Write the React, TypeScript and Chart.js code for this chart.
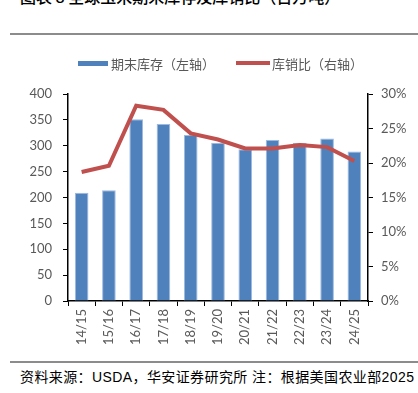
import React, { useEffect, useRef } from "react";
import { Chart, registerables } from "chart.js";

Chart.register(...registerables);

const categories = ["14/15", "15/16", "16/17", "17/18", "18/19", "19/20", "20/21", "21/22", "22/23", "23/24", "24/25"];
const endingStocks = [209, 214, 351, 342, 321, 306, 293, 311, 306, 314, 289];
const stockToUseRatio = [18.7, 19.6, 28.3, 27.7, 24.3, 23.4, 22.1, 22.1, 22.6, 22.3, 20.3];
const leftTicks = [0, 50, 100, 150, 200, 250, 300, 350, 400];
const rightTicks = [0, 5, 10, 15, 20, 25, 30];

const title = "图表 8 全球玉米期末库存及库销比（百万吨）";
const legendBar = "期末库存（左轴）";
const legendLine = "库销比（右轴）";
const footer = "资料来源：USDA，华安证券研究所 注：根据美国农业部2025";

const BLUE = "#4F81BD";
const RED = "#C0504D";
const GRAY = "#595959";
const TICK_FONT = { family: "Lato, 'Noto Sans', sans-serif", size: 13 };
const CJK = "'Noto Sans CJK SC', sans-serif";

export default function App() {
  const ref = useRef<HTMLCanvasElement | null>(null);

  useEffect(() => {
    if (!ref.current) return;
    const chart = new Chart(ref.current, {
      type: "bar",
      data: {
        labels: categories,
        datasets: [
          {
            type: "line",
            label: legendLine,
            data: stockToUseRatio,
            yAxisID: "y1",
            borderColor: RED,
            backgroundColor: RED,
            borderWidth: 4,
            pointRadius: 0,
            tension: 0,
            order: 0,
          } as any,
          {
            type: "bar",
            label: legendBar,
            data: endingStocks,
            yAxisID: "y",
            backgroundColor: BLUE,
            borderColor: "#9DB9DE",
            borderWidth: { top: 1, left: 1, right: 1, bottom: 0 },
            barPercentage: 0.5,
            categoryPercentage: 1,
            order: 1,
          } as any,
        ],
      },
      options: {
        animation: false,
        responsive: false,
        maintainAspectRatio: false,
        layout: { padding: { top: 54, left: 0, right: 0, bottom: 0 } },
        plugins: { legend: { display: false }, tooltip: { enabled: false } },
        scales: {
          x: {
            offset: true,
            grid: {
              offset: true,
              drawOnChartArea: false,
              drawTicks: true,
              tickLength: 5,
              color: "#000",
              lineWidth: 1,
            },
            border: { color: "#000", width: 1.5 },
            ticks: {
              color: GRAY,
              font: TICK_FONT,
              minRotation: 90,
              maxRotation: 90,
              padding: 3,
              autoSkip: false,
            },
            afterFit: (s: any) => {
              s.height = 59;
            },
          },
          y: {
            position: "left",
            min: 0,
            max: 400,
            afterBuildTicks: (s: any) => {
              s.ticks = leftTicks.map((v) => ({ value: v }));
            },
            grid: {
              drawOnChartArea: false,
              drawTicks: true,
              tickLength: 5,
              color: "#000",
            },
            border: { color: "#000", width: 1.5 },
            ticks: { color: GRAY, font: TICK_FONT, padding: 11 },
            afterFit: (s: any) => {
              s.width = 68;
            },
          },
          y1: {
            position: "right",
            min: 0,
            max: 30,
            afterBuildTicks: (s: any) => {
              s.ticks = rightTicks.map((v) => ({ value: v }));
            },
            grid: {
              drawOnChartArea: false,
              drawTicks: true,
              tickLength: 5,
              color: "#000",
            },
            border: { color: "#000", width: 1.5 },
            ticks: {
              color: GRAY,
              font: TICK_FONT,
              padding: 8,
              callback: (v: any) => `${v}%`,
            },
            afterFit: (s: any) => {
              s.width = 50;
            },
          },
        },
      },
    });
    return () => chart.destroy();
  }, []);

  return (
    <div
      style={{
        position: "fixed",
        left: 0,
        top: 0,
        width: 418,
        height: 393,
        background: "#fff",
        overflow: "hidden",
      }}
    >
      <div
        style={{
          position: "absolute",
          left: 20,
          top: -14,
          fontFamily: CJK,
          fontSize: 16,
          fontWeight: 500,
          color: "#000",
          whiteSpace: "nowrap",
          lineHeight: "20px",
        }}
      >
        {title}
      </div>
      <div style={{ position: "absolute", left: 10, top: 33, width: 408, height: 2, background: "#8c8c8c" }} />
      <canvas ref={ref} width={418} height={320} style={{ position: "absolute", left: 0, top: 40 }} />
      <div
        style={{
          position: "absolute",
          left: 78,
          top: 54,
          height: 18,
          display: "flex",
          alignItems: "center",
          fontFamily: CJK,
          fontSize: 13,
          color: GRAY,
          whiteSpace: "nowrap",
        }}
      >
        <span style={{ display: "inline-block", width: 30, height: 5, background: BLUE, marginRight: 3 }} />
        <span>{legendBar}</span>
        <span style={{ display: "inline-block", width: 34, height: 4, background: RED, marginLeft: 21, marginRight: 2 }} />
        <span>{legendLine}</span>
      </div>
      <div style={{ position: "absolute", left: 10, top: 361, width: 408, height: 2, background: "#8c8c8c" }} />
      <div
        style={{
          position: "absolute",
          left: 20,
          top: 367,
          fontFamily: "'Liberation Sans', 'Noto Sans CJK SC', sans-serif",
          fontSize: 14,
          letterSpacing: "0.4px",
          color: "#000",
          whiteSpace: "pre",
          lineHeight: "20px",
        }}
      >
        {footer}
      </div>
    </div>
  );
}
